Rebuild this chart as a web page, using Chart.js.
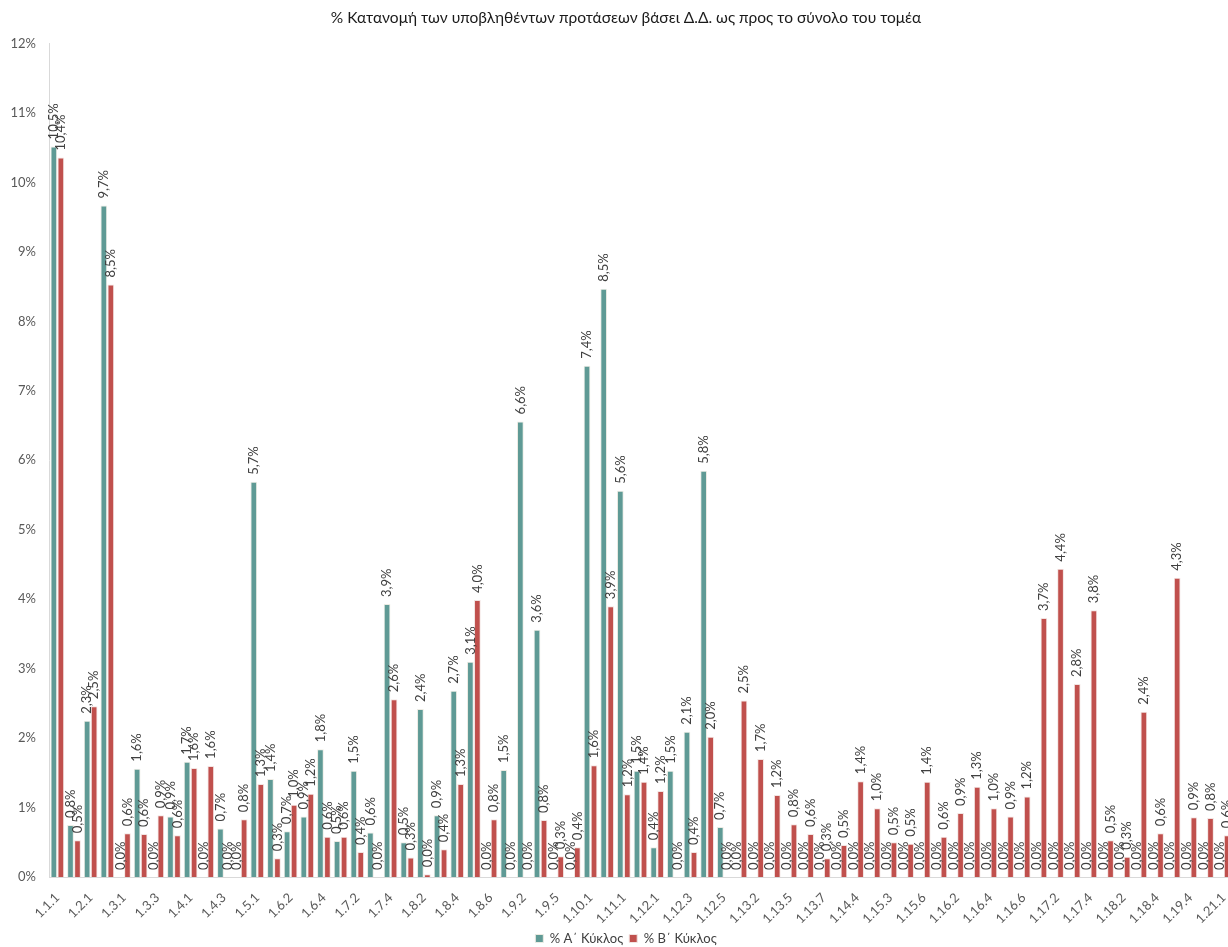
<!DOCTYPE html>
<html>
<head>
<meta charset="utf-8">
<title>Κατανομή προτάσεων</title>
<script src="https://cdn.jsdelivr.net/npm/chart.js@4.4.1/dist/chart.umd.min.js"></script>
<style>
  html, body { margin: 0; padding: 0; background: #fff; overflow: hidden; }
  #wrap { width: 1252px; height: 955px; position: relative; }
</style>
</head>
<body>
<div id="wrap"><canvas id="distChart" width="1252" height="955"></canvas></div>
<script>
const chartTitle = "% Κατανομή των υποβληθέντων προτάσεων βάσει Δ.Δ. ως προς το σύνολο του τομέα";

const categories = [
  "1.1.1", "1.1.2", "1.2.1", "1.2.2", "1.3.1", "1.3.2", "1.3.3", "1.3.4",
  "1.4.1", "1.4.2", "1.4.3", "1.4.4", "1.5.1", "1.6.1", "1.6.2", "1.6.3",
  "1.6.4", "1.7.1", "1.7.2", "1.7.3", "1.7.4", "1.8.1", "1.8.2", "1.8.3",
  "1.8.4", "1.8.5", "1.8.6", "1.9.1", "1.9.2", "1.9.4", "1.9.5", "1.9.6",
  "1.10.1", "1.10.2", "1.11.1", "1.11.2", "1.12.1", "1.12.2", "1.12.3", "1.12.4",
  "1.12.5", "1.13.1", "1.13.2", "1.13.4", "1.13.5", "1.13.6", "1.13.7", "1.14.1",
  "1.14.4", "1.15.1", "1.15.3", "1.15.5", "1.15.6", "1.16.1", "1.16.2", "1.16.3",
  "1.16.4", "1.16.5", "1.16.6", "1.17.1", "1.17.2", "1.17.3", "1.17.4", "1.18.1",
  "1.18.2", "1.18.3", "1.18.4", "1.19.1", "1.19.4", "1.20.1", "1.21.1"
];

// % Α΄ Κύκλος
const cycleA = [
  10.52, 0.75, 2.25, 9.67, 0.00, 1.56, 0.00, 0.87,
  1.66, 0.00, 0.70, 0.00, 5.69, 1.41, 0.66, 0.87,
  1.84, 0.52, 1.53, 0.64, 3.93, 0.50, 2.42, 0.89,
  2.68, 3.10, 0.00, 1.54, 6.56, 3.56, 0.00, 0.00,
  7.36, 8.47, 5.56, 1.53, 0.43, 1.53, 2.09, 5.85,
  0.72, 0.00, 0.00, 0.00, 0.00, 0.00, 0.00, 0.00,
  0.00, 0.00, 0.00, 0.00, 0.00, 0.00, 0.00, 0.00,
  0.00, 0.00, 0.00, 0.00, 0.00, 0.00, 0.00, 0.00,
  0.00, 0.00, 0.00, 0.00, 0.00, 0.00, 0.00
];

// % Β΄ Κύκλος
const cycleB = [
  10.36, 0.53, 2.46, 8.53, 0.63, 0.62, 0.89, 0.60,
  1.57, 1.60, 0.00, 0.83, 1.34, 0.27, 1.04, 1.20,
  0.58, 0.58, 0.36, 0.00, 2.56, 0.28, 0.04, 0.40,
  1.34, 3.99, 0.83, 0.00, 0.00, 0.82, 0.30, 0.43,
  1.61, 3.90, 1.19, 1.37, 1.24, 0.00, 0.36, 2.02,
  0.00, 2.54, 1.70, 1.18, 0.76, 0.62, 0.27, 0.46,
  1.38, 0.99, 0.50, 0.48, 1.37, 0.58, 0.92, 1.30,
  0.99, 0.87, 1.16, 3.73, 4.44, 2.78, 3.84, 0.53,
  0.29, 2.38, 0.63, 4.31, 0.86, 0.85, 0.60
];

const seriesLabels = ["% Α΄ Κύκλος", "% Β΄ Κύκλος"];
const yMin = 0;
const yMax = 12;
const yStep = 1;

const FONT = 'Lato, "Noto Sans", sans-serif';

function formatPct(v) {
  return v.toFixed(1).replace(".", ",") + "%";
}

// vertical value labels above each bar
const barValueLabels = {
  id: "barValueLabels",
  afterDatasetsDraw(chart) {
    const ctx = chart.ctx;
    ctx.save();
    ctx.font = "13px " + FONT;
    ctx.fillStyle = "#404040";
    ctx.textAlign = "left";
    ctx.textBaseline = "middle";
    chart.data.datasets.forEach((ds, i) => {
      const meta = chart.getDatasetMeta(i);
      meta.data.forEach((bar, j) => {
        ctx.save();
        ctx.translate(bar.x, bar.y - 7);
        ctx.rotate(-Math.PI / 2);
        ctx.fillText(formatPct(ds.data[j]), 0, 0);
        ctx.restore();
      });
    });
    ctx.restore();
  },
};

const ctx = document.getElementById("distChart");

new Chart(ctx, {
  type: "bar",
  data: {
    labels: categories,
    datasets: [
      {
        label: seriesLabels[0],
        data: cycleA,
        backgroundColor: "#5F9A95",
        borderColor: "#ECEBE3",
        borderWidth: 1,
        categoryPercentage: 0.84,
        barPercentage: 0.96,
      },
      {
        label: seriesLabels[1],
        data: cycleB,
        backgroundColor: "#C0504D",
        borderColor: "#F2E4E2",
        borderWidth: 1,
        categoryPercentage: 0.84,
        barPercentage: 0.96,
      },
    ],
  },
  options: {
    responsive: false,
    animation: false,
    maintainAspectRatio: false,
    layout: { padding: 0 },
    plugins: {
      title: {
        display: true,
        text: chartTitle,
        color: "#1a1a1a",
        font: { family: FONT, size: 15.5, weight: "normal" },
        padding: { top: 9, bottom: 16 },
      },
      legend: {
        position: "bottom",
        labels: {
          color: "#404040",
          font: { family: FONT, size: 13 },
          boxWidth: 8,
          boxHeight: 8,
          padding: 6,
        },
      },
      tooltip: { enabled: false },
    },
    scales: {
      x: {
        grid: { display: false },
        border: { display: true, color: "#D9D9D9" },
        ticks: {
          autoSkip: false,
          maxRotation: 45,
          minRotation: 45,
          padding: 5,
          color: "#595959",
          font: { family: FONT, size: 13 },
          callback: function (value, index) {
            return index % 2 === 0 ? categories[index] : "";
          },
        },
        afterFit: function (scale) {
          scale.height = 49;
        },
      },
      y: {
        min: yMin,
        max: yMax,
        grid: { display: false },
        border: { display: true, color: "#D9D9D9" },
        ticks: {
          stepSize: yStep,
          padding: 5,
          color: "#595959",
          font: { family: FONT, size: 13 },
          callback: function (v) {
            return v + "%";
          },
        },
        afterFit: function (scale) {
          scale.width = 49;
        },
      },
      // empty right margin so title/legend stay centred on the full width
      yRight: {
        position: "right",
        min: yMin,
        max: yMax,
        grid: { display: false },
        border: { display: false },
        ticks: { display: false },
        afterFit: function (scale) {
          scale.width = 20;
        },
      },
    },
  },
  plugins: [barValueLabels],
});
</script>
</body>
</html>
